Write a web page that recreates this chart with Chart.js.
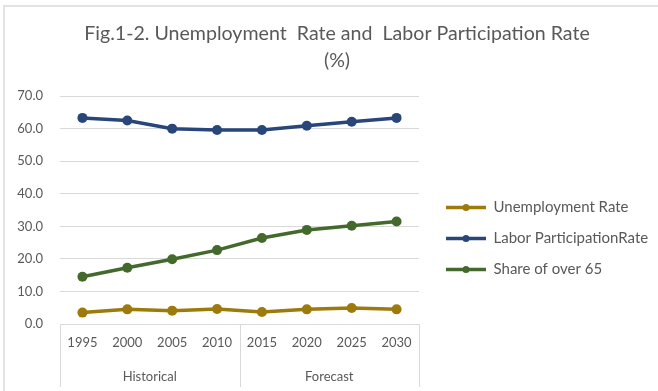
<!DOCTYPE html>
<html>
<head>
<meta charset="utf-8">
<script src="https://cdn.jsdelivr.net/npm/chart.js@4"></script>
<style>
  html, body { margin: 0; padding: 0; background: #fff; }
  #wrap { position: relative; width: 658px; height: 391px; }
  #frame { position: absolute; left: 3px; top: 5px; right: -2px; bottom: -2px; border: 2px solid #e3e3e3; }
  canvas { position: absolute; left: 0; top: 0; }
</style>
</head>
<body>
<div id="wrap">
  <div id="frame"></div>
  <canvas id="chart" width="658" height="391"></canvas>
</div>
<script>
const years = ['1995', '2000', '2005', '2010', '2015', '2020', '2025', '2030'];
const groupLabels = ['Historical', 'Forecast'];
const groupSizes = [4, 4];

const unemployment = [3.5, 4.5, 4.1, 4.6, 3.7, 4.5, 4.9, 4.5];
const laborParticipation = [63.3, 62.5, 60.0, 59.6, 59.6, 60.9, 62.1, 63.3];
const shareOver65 = [14.5, 17.3, 19.9, 22.7, 26.4, 28.9, 30.2, 31.5];

const yTicks = [0, 10, 20, 30, 40, 50, 60, 70];

const FONT = 'Lato, "Liberation Sans", sans-serif';
const TEXT = '#595959';
const GRID = '#d9d9d9';

const line = (label, data, color) => ({
    label,
    data,
    borderColor: color,
    backgroundColor: color,
    borderWidth: 3.5,
    pointRadius: 5,
    pointBackgroundColor: color,
    pointBorderColor: color,
    pointBorderWidth: 0,
    tension: 0
});

// group labels + the lines of the two-level category axis
const groupAxis = {
    id: 'groupAxis',
    afterDraw(chart) {
        const { ctx, chartArea } = chart;
        const x = chart.scales.x;
        const half = (x.getPixelForValue(1) - x.getPixelForValue(0)) / 2;
        const top = chartArea.bottom;
        const bottom = chart.height - 4;

        ctx.save();
        ctx.strokeStyle = GRID;
        ctx.lineWidth = 1;
        ctx.fillStyle = TEXT;
        ctx.font = '13px ' + FONT;
        ctx.textAlign = 'center';
        ctx.textBaseline = 'middle';

        let start = 0;
        const edges = [x.getPixelForValue(0) - half];
        groupLabels.forEach((label, i) => {
            const end = start + groupSizes[i] - 1;
            const l = x.getPixelForValue(start) - half;
            const r = x.getPixelForValue(end) + half;
            edges.push(r);
            ctx.fillText(label, (l + r) / 2, top + 53);
            start = end + 1;
        });
        edges.forEach(px => {
            const p = Math.round(px) + 0.5;
            ctx.beginPath();
            ctx.moveTo(p, top);
            ctx.lineTo(p, bottom);
            ctx.stroke();
        });
        ctx.restore();
    }
};

// legend: fixed width on the right, nudged into place, dot on each line
const legendBox = {
    id: 'legendBox',
    afterInit(chart) {
        const legend = chart.legend;
        const fit = legend.fit;
        legend.fit = function () {
            fit.call(this);
            this.width = 239;
        };
    },
    afterLayout(chart) {
        const legend = chart.legend;
        legend.left += 11;
        legend.right += 11;
        legend.top += 43;
        legend.bottom += 43;
        // title sits a little right of the canvas centre in the original
        chart.titleBlock.left += 8;
        chart.titleBlock.right += 8;
    },
    afterDraw(chart) {
        const { ctx } = chart;
        const boxes = chart.legend.legendHitBoxes || [];
        const boxWidth = chart.options.plugins.legend.labels.boxWidth;
        ctx.save();
        boxes.forEach((b, i) => {
            ctx.fillStyle = chart.data.datasets[i].borderColor;
            ctx.beginPath();
            ctx.arc(b.left + boxWidth / 2, b.top + b.height / 2, 3.5, 0, Math.PI * 2);
            ctx.fill();
        });
        ctx.restore();
    }
};

new Chart(document.getElementById('chart'), {
    type: 'line',
    data: {
        labels: years,
        datasets: [
            line('Unemployment Rate', unemployment, '#9c7a0c'),
            line('Labor ParticipationRate', laborParticipation, '#284679'),
            line('Share of over 65', shareOver65, '#44692c')
        ]
    },
    options: {
        responsive: false,
        animation: false,
        layout: {
            padding: { left: 0, right: 0, top: 0, bottom: 0 }
        },
        plugins: {
            title: {
                display: true,
                text: ['Fig.1-2. Unemployment  Rate and  Labor Participation Rate', '(%)'],
                color: TEXT,
                font: { family: FONT, size: 19.6, weight: 'normal', lineHeight: 1.38 },
                padding: { top: 20, bottom: 22 }
            },
            legend: {
                position: 'right',
                labels: {
                    color: TEXT,
                    font: { family: FONT, size: 15 },
                    boxWidth: 40,
                    boxHeight: 0,
                    padding: 16
                }
            },
            tooltip: { enabled: false }
        },
        scales: {
            x: {
                offset: true,
                grid: { display: false, drawTicks: false },
                border: { display: false },
                ticks: {
                    color: TEXT,
                    font: { family: FONT, size: 13 },
                    padding: 11,
                    maxRotation: 0
                },
                afterFit: s => { s.height = 67; }
            },
            y: {
                min: 0,
                max: 70,
                afterBuildTicks: s => { s.ticks = yTicks.map(value => ({ value })); },
                grid: { color: GRID, drawTicks: false },
                border: { display: false },
                ticks: {
                    color: TEXT,
                    font: { family: FONT, size: 13 },
                    padding: 17,
                    callback: v => v.toFixed(1)
                },
                afterFit: s => { s.width = 60; }
            }
        }
    },
    plugins: [groupAxis, legendBox]
});
</script>
</body>
</html>
